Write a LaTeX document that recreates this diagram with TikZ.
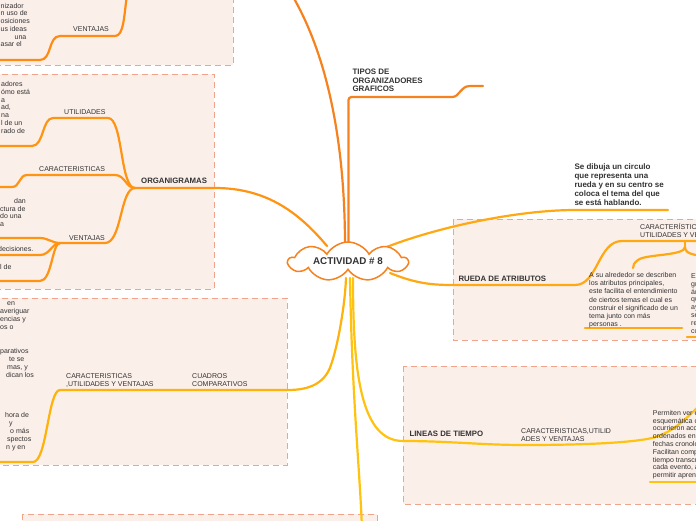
\documentclass[tikz,border=0pt]{standalone}
\usepackage{fontspec}
\setmainfont{Liberation Sans}
\usetikzlibrary{shapes.symbols}
\definecolor{boxfill}{HTML}{FBEFEA}
\definecolor{boxline}{HTML}{EFA48B}
\definecolor{ocenter}{HTML}{F5821F}
\definecolor{otop}{HTML}{FF8A14}
\definecolor{oorg}{HTML}{FF9412}
\definecolor{orueda}{HTML}{FFA812}
\definecolor{ocuad}{HTML}{FFB20A}
\definecolor{olin}{HTML}{FFC20E}
\definecolor{txt}{HTML}{333333}
\newcommand{\fs}{\rule{0pt}{7pt}}
\pgfdeclarelayer{back}
\pgfdeclarelayer{lines}
\pgfsetlayers{back,lines,main}
\tikzset{
  region/.style={fill=boxfill, draw=boxline, line width=1pt, dash pattern=on 6pt off 4pt},
  small/.style={font=\fontsize{7}{8.1}\selectfont, text=txt, align=left, inner sep=0pt, anchor=north west},
  lbl/.style={font=\fontsize{7}{8}\selectfont, text=txt, inner sep=0pt, anchor=base west},
  blbl/.style={font=\bfseries\fontsize{7.8}{9}\selectfont, text=txt, inner sep=0pt, anchor=base west},
  conn/.style={line width=2.2pt, line cap=round},
}
\begin{document}
\begin{tikzpicture}[x=1pt,y=-1pt]
\useasboundingbox (0,0) rectangle (696,520);
\clip (0,0) rectangle (696,520);

% ---------- regions ----------
\begin{pgfonlayer}{back}
\draw[region] (-10,-10) rectangle (233,65);
\draw[region] (-10,74) rectangle (214,289);
\draw[region] (-10,298) rectangle (287,465);
\draw[region] (453,219) rectangle (712,340);
\draw[region] (403,366) rectangle (712,504);
\draw[region] (22,514) rectangle (377,540);
\end{pgfonlayer}

% ---------- central node ----------
\node[cloud, cloud puffs=9, cloud puff arc=120, cloud ignores aspect, draw=ocenter, line width=1.5pt,
      fill=white, minimum width=119pt, minimum height=39pt, inner sep=0pt,
      font=\bfseries\fontsize{9.8}{11}\selectfont, text=txt] (c) at (348,261.5) {ACTIVIDAD \# 8};

% ---------- top-left region ----------
\node[small, font=\fontsize{7}{7.7}\selectfont] (tl) at (0.5,1) {\fs nizador\\n uso de\\osiciones\\us ideas\\\hspace*{14pt}una\\asar el};
\node[lbl] (tlv) at (73,31.8) {VENTAJAS};

% ---------- organigramas ----------
\node[blbl] (org) at (141,183.5) {ORGANIGRAMAS};
\node[lbl] (ut) at (64,114.2) {UTILIDADES};
\node[lbl] (ca) at (39,171.2) {CARACTERISTICAS};
\node[lbl] (ve) at (69,240.2) {VENTAJAS};
\node[small, font=\fontsize{7}{7.8}\selectfont] (o1) at (1,79.3) {\fs adores\\ómo está\\a\\ad,\\na\\l de un\\rado de};
\node[small, font=\fontsize{7}{7.7}\selectfont] (o2) at (0,196.3) {\fs\hspace*{14pt}dan\\ctura de\\do una\\a};
\node[lbl] (o3) at (-2,251.5) {decisiones.};
\node[lbl] (o4) at (0,269) {l de};

% ---------- cuadros comparativos ----------
\node[small, font=\fontsize{7}{7.7}\selectfont] (cq1) at (66,371.2) {\fs CARACTERISTICAS\\,UTILIDADES Y VENTAJAS};
\node[small, font=\fontsize{7}{7.7}\selectfont] (cq2) at (192,371.2) {\fs CUADROS\\COMPARATIVOS};
\node[small, font=\fontsize{7}{8}\selectfont] (ct1) at (0,298.3) {\fs\hspace*{7pt}en\\averiguar\\encias y\\os o};
\node[small, font=\fontsize{7}{8}\selectfont] (ct2) at (0,346.3) {\fs parativos\\\hspace*{9pt}te se\\\hspace*{7pt}mas, y\\\hspace*{6pt}dican los};
\node[small, font=\fontsize{7}{8.1}\selectfont] (ct3) at (0,410.3) {\fs\hspace*{5pt}hora de\\\hspace*{9pt}y\\\hspace*{10pt}o más\\\hspace*{7pt}spectos\\\hspace*{6pt}n y en};

% ---------- tipos ----------
\node[small, font=\bfseries\fontsize{7.9}{8.8}\selectfont] (tip) at (352.3,67) {\fs TIPOS DE\\ORGANIZADORES\\GRAFICOS};

% ---------- rueda de atributos ----------
\node[small, font=\bfseries\fontsize{8}{9}\selectfont] (sd) at (574.3,162.3) {\fs Se dibuja un circulo\\que representa una\\rueda y en su centro se\\coloca el tema del que\\se está hablando.};
\node[blbl] (ru) at (458.3,281) {RUEDA DE ATRIBUTOS};
\node[small, font=\fontsize{7}{8}\selectfont] (rc) at (640,221.8) {\fs CARACTERÍSTICAS,\\UTILIDADES Y VENTAJAS};
\node[small] (ra) at (589,270.5) {\fs A su alrededor se describen\\los atributos principales,\\este facilita el entendimiento\\de ciertos temas el cual es\\construir el significado de un\\tema junto con más\\personas .};
\node[small, font=\fontsize{7}{7.8}\selectfont] (rb) at (691,271.3) {\fs Es\\gr\\ár\\qu\\ay\\se\\re\\co};

% ---------- lineas de tiempo ----------
\node[blbl] (li) at (409.3,436) {LINEAS DE TIEMPO};
\node[small, font=\fontsize{7}{8}\selectfont] (lc) at (521,426.2) {\fs CARACTERISTICAS,UTILID\\ADES Y VENTAJAS};
\node[small, font=\fontsize{7}{7.8}\selectfont] (lt) at (652.7,408) {\fs Permiten ver e\\esquemática c\\ocurrieron acc\\ordenados en\\fechas cronolo\\Facilitan comp\\tiempo transcu\\cada evento, a\\permitir apren};

% ---------- coordinates ----------
\coordinate (cTop) at (345,246);
\coordinate (cTip) at (348.5,246);
\coordinate (cOrg) at (327,246);
\coordinate (cRu1) at (384,248);
\coordinate (cRu2) at (390,273);
\coordinate (cCu) at (346,278);
\coordinate (cBo) at (350,278);
\coordinate (cLi) at (353,278);
\coordinate (topEnd) at (292,-5);
\coordinate (tipEnd) at (483,86);
\coordinate (orgJ) at (135,188);
\coordinate (veJ) at (60,243);
\coordinate (cuJ) at (60,390);
\coordinate (brJ) at (685,247);
\coordinate (boEnd) at (362,530);

% ---------- connectors ----------
\begin{pgfonlayer}{lines}
\draw[conn, otop] (-5,60) -- (40,60) .. controls (52,60) and (48,36) .. (60,36) -- (115,36) .. controls (124,36) and (124,15) .. (127,-5);
\draw[conn, ocenter] (cTop) .. controls (345,150) and (330,60) .. (topEnd);
\draw[conn, ocenter, rounded corners=3pt] (cTip) -- (348.5,97) -- (452,97);
\draw[conn, ocenter] (452,97) .. controls (460,97) and (460,86) .. (470,86) -- (tipEnd);
\draw[conn, oorg] (cOrg) .. controls (300,214) and (268,188) .. (215,188) -- (orgJ);
\draw[conn, oorg] (orgJ) .. controls (120,188) and (123,118) .. (108,118) -- (53,118) .. controls (42,118) and (44,146) .. (32,146) -- (-5,146);
\draw[conn, oorg] (orgJ) .. controls (126,188) and (125,175) .. (115,175) -- (27,175) .. controls (19,175) and (20,187) .. (12,187) -- (-5,187);
\draw[conn, oorg] (orgJ) .. controls (120,188) and (122,243) .. (105,243) -- (veJ);
\draw[conn, oorg] (veJ) .. controls (52,243) and (48,238) .. (40,238) -- (-5,238);
\draw[conn, oorg] (veJ) .. controls (52,243) and (50,255) .. (40,255) -- (-5,255);
\draw[conn, oorg] (veJ) .. controls (52,243) and (52,281) .. (40,281) -- (-5,281);
\draw[conn, ocuad] (cCu) .. controls (345,305) and (338,345) .. (331,365) .. controls (325,383) and (310,390) .. (288,390) -- (cuJ);
\draw[conn, ocuad] (cuJ) .. controls (48,390) and (47,462) .. (33,462) -- (-5,462);
\draw[conn, olin] (cBo) .. controls (352,400) and (360,470) .. (boEnd);
\draw[conn, olin] (cLi) .. controls (353,370) and (360,441) .. (403,441) .. controls (450,441) and (480,445) .. (525,445) .. controls (580,445) and (630,443) .. (652,438) .. controls (672,433) and (685,420) .. (705,400);
\draw[conn, olin] (650,482) -- (705,482);
\draw[conn, orueda] (cRu1) .. controls (440,226) and (520,210) .. (575,210) -- (668,210);
\draw[conn, orueda] (cRu2) .. controls (415,283) and (430,285) .. (453,285) -- (575,285) .. controls (598,285) and (598,241) .. (622,241) -- (705,241);
\draw[conn, orueda] (685,241) -- (brJ);
\draw[conn, orueda] (brJ) .. controls (685,256) and (645,254) .. (638,260) .. controls (634,263) and (633,265) .. (633,268);
\draw[conn, orueda] (brJ) .. controls (685,256) and (700,254) .. (705,258);
\draw[conn, orueda] (585,328) -- (682,328);
\draw[conn, orueda] (687,337) -- (705,337);
\end{pgfonlayer}
\end{tikzpicture}
\end{document}
